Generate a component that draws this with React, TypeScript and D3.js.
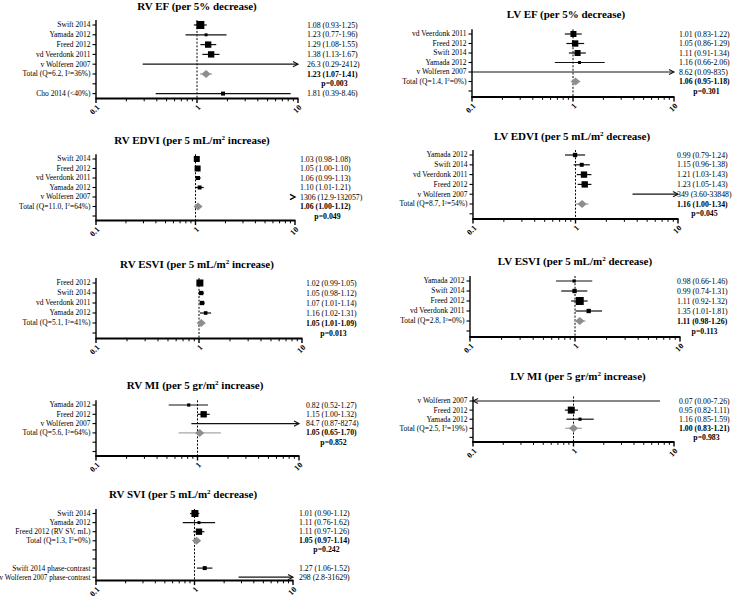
import React, { useEffect, useRef } from 'react';
import * as d3 from 'd3';

// label, estimate, lower CI, upper CI, weight (%)
type Study = [string, string, string, string, number];
type Row = Study | 'total' | null;
type Total = { q: string; i2: string; est: string; lo: string; hi: string; p: string };

const tickValues = [0.1, 1, 10];
const tickLabels = ['0.1', '1', '10'];

const rvEfRows: Row[] = [
  ['Swift 2014', '1.08', '0.93', '1.25', 44],
  ['Yamada 2012', '1.23', '0.77', '1.96', 6],
  ['Freed 2012', '1.29', '1.08', '1.55', 28],
  ['vd Veerdonk 2011', '1.38', '1.13', '1.67', 28],
  ['v Wolferen 2007', '26.3', '0.29', '2412', 0.3],
  'total',
  null,
  ['Cho 2014 (<40%)', '1.81', '0.39', '8.46', 11],
];
const rvEfTotal: Total = { q: '6.2', i2: '36', est: '1.23', lo: '1.07', hi: '1.41', p: '0.003' };

const lvEfRows: Row[] = [
  ['vd Veerdonk 2011', '1.01', '0.83', '1.22', 25],
  ['Freed 2012', '1.05', '0.86', '1.29', 28],
  ['Swift 2014', '1.11', '0.91', '1.34', 25],
  ['Yamada 2012', '1.16', '0.66', '2.06', 6],
  ['v Wolferen 2007', '8.62', '0.09', '835', 0.3],
  'total',
  null,
];
const lvEfTotal: Total = { q: '1.4', i2: '0', est: '1.06', lo: '0.95', hi: '1.18', p: '0.301' };

const rvEdviRows: Row[] = [
  ['Swift 2014', '1.03', '0.98', '1.08', 25],
  ['Freed 2012', '1.05', '1.00', '1.10', 25],
  ['vd Veerdonk 2011', '1.06', '0.99', '1.13', 11],
  ['Yamada 2012', '1.10', '1.01', '1.21', 11],
  ['v Wolferen 2007', '1306', '12.9', '132057', 0.3],
  'total',
  null,
];
const rvEdviTotal: Total = { q: '11.0', i2: '64', est: '1.06', lo: '1.00', hi: '1.12', p: '0.049' };

const lvEdviRows: Row[] = [
  ['Yamada 2012', '0.99', '0.79', '1.24', 13],
  ['Swift 2014', '1.15', '0.96', '1.38', 11],
  ['vd Veerdonk 2011', '1.21', '1.03', '1.43', 28],
  ['Freed 2012', '1.23', '1.05', '1.43', 28],
  ['v Wolferen 2007', '349', '3.60', '33848', 0.3],
  'total',
  null,
];
const lvEdviTotal: Total = { q: '8.7', i2: '54', est: '1.16', lo: '1.00', hi: '1.34', p: '0.045' };

const rvEsviRows: Row[] = [
  ['Freed 2012', '1.02', '0.99', '1.05', 34],
  ['Swift 2014', '1.05', '0.98', '1.12', 13],
  ['vd Veerdonk 2011', '1.07', '1.01', '1.14', 13],
  ['Yamada 2012', '1.16', '1.02', '1.31', 9],
  'total',
  null,
];
const rvEsviTotal: Total = { q: '5.1', i2: '41', est: '1.05', lo: '1.01', hi: '1.09', p: '0.013' };

const lvEsviRows: Row[] = [
  ['Yamada 2012', '0.98', '0.66', '1.46', 7],
  ['Swift 2014', '0.99', '0.74', '1.31', 13],
  ['Freed 2012', '1.11', '0.92', '1.32', 44],
  ['vd Veerdonk 2011', '1.35', '1.01', '1.81', 13],
  'total',
  null,
];
const lvEsviTotal: Total = { q: '2.8', i2: '0', est: '1.11', lo: '0.98', hi: '1.26', p: '0.113' };

const rvMiRows: Row[] = [
  ['Yamada 2012', '0.82', '0.52', '1.27', 7],
  ['Freed 2012', '1.15', '1.00', '1.32', 28],
  ['v Wolferen 2007', '84.7', '0.87', '8274', 0.3],
  'total',
  null,
  null,
];
const rvMiTotal: Total = { q: '5.6', i2: '64', est: '1.05', lo: '0.65', hi: '1.70', p: '0.852' };

const lvMiRows: Row[] = [
  ['v Wolferen 2007', '0.07', '0.00', '7.26', 0.3],
  ['Freed 2012', '0.95', '0.82', '1.11', 34],
  ['Yamada 2012', '1.16', '0.85', '1.59', 7],
  'total',
  null,
];
const lvMiTotal: Total = { q: '2.5', i2: '19', est: '1.00', lo: '0.83', hi: '1.21', p: '0.983' };

const rvSviRows: Row[] = [
  ['Swift 2014', '1.01', '0.90', '1.12', 34],
  ['Yamada 2012', '1.11', '0.76', '1.62', 6],
  ['Freed 2012 (RV SV, mL)', '1.11', '0.97', '1.26', 28],
  'total',
  null,
  null,
  ['Swift 2014 phase-contrast', '1.27', '1.06', '1.52', 11],
  ['v Wolferen 2007 phase-contrast', '298', '2.8', '31629', 0.3],
];
const rvSviTotal: Total = { q: '1.3', i2: '0', est: '1.05', lo: '0.97', hi: '1.14', p: '0.242' };

type Layout = {
  x0: number; x1: number; y0: number; step: number; axisY: number;
  titleX: number; titleY: number; textX: number;
};
type Panel = { title: [string, string, string]; rows: Row[]; total: Total; layout: Layout };

const panels: Panel[] = [
  { title: ['RV EF (per 5% decrease)', '', ''], rows: rvEfRows, total: rvEfTotal,
    layout: { x0: 96, x1: 298, y0: 25, step: 9.8, axisY: 98.5, titleX: 197, titleY: 9.5, textX: 307 } },
  { title: ['LV EF (per 5% decrease)', '', ''], rows: lvEfRows, total: lvEfTotal,
    layout: { x0: 472, x1: 674, y0: 34, step: 9.5, axisY: 97, titleX: 566, titleY: 17.5, textX: 679 } },
  { title: ['RV EDVI (per 5 mL/m', '2', ' increase)'], rows: rvEdviRows, total: rvEdviTotal,
    layout: { x0: 96, x1: 295, y0: 159, step: 9.5, axisY: 220.5, titleX: 192, titleY: 143.5, textX: 300 } },
  { title: ['LV EDVI (per 5 mL/m', '2', ' decrease)'], rows: lvEdviRows, total: lvEdviTotal,
    layout: { x0: 473, x1: 678, y0: 155, step: 9.8, axisY: 219, titleX: 572, titleY: 140, textX: 677 } },
  { title: ['RV ESVI (per 5 mL/m', '2', ' increase)'], rows: rvEsviRows, total: rvEsviTotal,
    layout: { x0: 96, x1: 302, y0: 283, step: 10, axisY: 338.5, titleX: 197, titleY: 268, textX: 306 } },
  { title: ['LV ESVI (per 5 mL/m', '2', ' decrease)'], rows: lvEsviRows, total: lvEsviTotal,
    layout: { x0: 470, x1: 680, y0: 281, step: 10, axisY: 337, titleX: 575, titleY: 265, textX: 677 } },
  { title: ['RV MI (per 5 gr/m', '2', ' increase)'], rows: rvMiRows, total: rvMiTotal,
    layout: { x0: 96, x1: 299, y0: 405, step: 9.3, axisY: 456, titleX: 195, titleY: 389, textX: 306 } },
  { title: ['LV MI (per 5 gr/m', '2', ' increase)'], rows: lvMiRows, total: lvMiTotal,
    layout: { x0: 473, x1: 674, y0: 401, step: 9.1, axisY: 442, titleX: 578, titleY: 380, textX: 679 } },
  { title: ['RV SVI (per 5 mL/m', '2', ' decrease)'], rows: rvSviRows, total: rvSviTotal,
    layout: { x0: 96, x1: 293, y0: 513.5, step: 9.1, axisY: 580.5, titleX: 183, titleY: 497.5, textX: 299 } },
];

const FONT = "'Liberation Serif', 'Times New Roman', serif";
const clipTol = 0.85;

const chevron = (tx: number, y: number, dir: number) =>
  `M${tx - dir * 5},${y - 2.6}L${tx},${y}L${tx - dir * 5},${y + 2.6}`;

function ForestPanel({ panel }: { panel: Panel }) {
  const { x0, x1, y0, step, axisY, titleX, titleY, textX } = panel.layout;
  const x = d3.scaleLog().domain([0.1, 10]).range([x0, x1]);
  const [xMin, xMax] = x.domain();
  const wScale = d3.scaleSqrt().domain([0, 100]).range([0, 6]);
  const rowY = (i: number) => y0 + i * step;
  const yTop = y0 - step / 2;
  const t = panel.total;
  const totalIdx = panel.rows.indexOf('total');

  return (
    <g fontFamily={FONT}>
      <text x={titleX} y={titleY} textAnchor="middle" fontSize={11} fontWeight="bold">
        {panel.title[0]}
        {panel.title[1] && (
          <>
            <tspan dy={-4} fontSize={7}>{panel.title[1]}</tspan>
            <tspan dy={4}>{panel.title[2]}</tspan>
          </>
        )}
      </text>

      {/* reference line at 1 */}
      <line x1={x(1)} x2={x(1)} y1={yTop} y2={axisY} stroke="#000" strokeWidth={1} strokeDasharray="2,1.6" />

      {/* y axis */}
      <line x1={x0} x2={x0} y1={yTop} y2={axisY} stroke="#000" strokeWidth={1.4} />
      {panel.rows.map((_, i) => (
        <line key={'yt' + i} x1={x0 - 3.5} x2={x0} y1={rowY(i)} y2={rowY(i)} stroke="#000" strokeWidth={1.1} />
      ))}

      {/* x axis */}
      <line x1={x0 - 0.7} x2={x1 + 0.5} y1={axisY} y2={axisY} stroke="#000" strokeWidth={1.8} />
      {x.ticks().map((v, i) => {
        const major = tickValues.some(m => Math.abs(m - v) < 1e-9);
        return (
          <line key={'xt' + i} x1={x(v)} x2={x(v)} y1={axisY} y2={axisY + (major ? 4.5 : 2.8)}
            stroke="#000" strokeWidth={major ? 1.4 : 1} />
        );
      })}
      {tickValues.map((v, i) => (
        <text key={'xl' + i} transform={`translate(${x(v) + 4},${axisY + 9.5}) rotate(-45)`}
          textAnchor="end" fontSize={8} fontWeight="bold">{tickLabels[i]}</text>
      ))}

      {panel.rows.map((r, i) => {
        const y = rowY(i);
        if (r === null) return null;
        if (r === 'total') {
          const est = +t.est, lo = +t.lo, hi = +t.hi;
          const cx = x(est);
          return (
            <g key={'r' + i}>
              <text className="row-label" x={x0 - 5.5} y={y} dy="0.33em" textAnchor="end" fontSize={7.5}>
                {`Total (Q=${t.q}, I`}
                <tspan dy={-2.8} fontSize={5}>2</tspan>
                <tspan dy={2.8}>{`=${t.i2}%)`}</tspan>
              </text>
              <line x1={x(lo)} x2={x(hi)} y1={y} y2={y} stroke="#a8a8a8" strokeWidth={1.3} />
              <path d={`M${cx - 4.6},${y}L${cx},${y - 4}L${cx + 4.6},${y}L${cx},${y + 4}Z`} fill="#8e8e8e" />
              <text x={textX} y={y} dy="0.33em" fontSize={7.8} fontWeight="bold">
                {`${t.est} (${t.lo}-${t.hi})`}
              </text>
            </g>
          );
        }
        const [label, estS, loS, hiS, w] = r;
        const est = +estS, lo = +loS, hi = +hiS;
        const h = wScale(w);
        const offRight = lo > xMax;
        const clipL = lo < xMin * clipTol;
        const clipR = hi > xMax;
        const xa = x(Math.max(lo, xMin));
        const xb = x(Math.min(hi, xMax));
        return (
          <g key={'r' + i}>
            <text className="row-label" x={x0 - 5.5} y={y} dy="0.33em" textAnchor="end" fontSize={7.5}>{label}</text>
            {offRight ? (
              <path d={chevron(x1, y, 1)} fill="none" stroke="#000" strokeWidth={1.4} />
            ) : (
              <>
                <line x1={xa} x2={xb} y1={y} y2={y} stroke="#111" strokeWidth={1.2} />
                {clipR && <path d={chevron(x1, y, 1)} fill="none" stroke="#111" strokeWidth={1.1} />}
                {clipL && <path d={chevron(x0, y, -1)} fill="none" stroke="#111" strokeWidth={1.1} />}
              </>
            )}
            {est >= xMin && est <= xMax && h > 0.5 && (
              <rect x={x(est) - h} y={y - h} width={2 * h} height={2 * h} fill="#000" />
            )}
            <text x={textX} y={y} dy="0.33em" fontSize={7.8}>{`${estS} (${loS}-${hiS})`}</text>
          </g>
        );
      })}

      {totalIdx >= 0 && (
        <text x={textX + 27.5} y={rowY(totalIdx + 1)} dy="0.33em" textAnchor="middle" fontSize={7.8} fontWeight="bold">
          {`p=${t.p}`}
        </text>
      )}
    </g>
  );
}

export default function App() {
  const svgRef = useRef<SVGSVGElement>(null);

  useEffect(() => {
    if (!svgRef.current) return;
    // squeeze any row label that would run past the left edge
    d3.select(svgRef.current).selectAll<SVGTextElement, unknown>('text.row-label').each(function () {
      const b = this.getBBox();
      if (b.x < 0.5) {
        const right = b.x + b.width;
        this.setAttribute('textLength', String(right - 0.5));
        this.setAttribute('lengthAdjust', 'spacingAndGlyphs');
      }
    });
  }, []);

  return (
    <svg ref={svgRef} width={739} height={597} viewBox="0 0 739 597"
      style={{ position: 'absolute', left: 0, top: 0, background: '#fff' }}>
      <rect width={739} height={597} fill="#fff" />
      {panels.map((p, i) => <ForestPanel key={i} panel={p} />)}
    </svg>
  );
}
